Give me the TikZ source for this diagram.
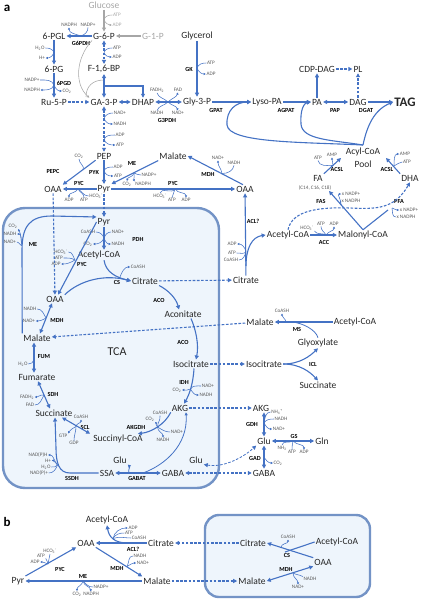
\documentclass[tikz,border=0pt]{standalone}
\usepackage{fontspec}
\setmainfont{Carlito}
\usetikzlibrary{arrows.meta}
\definecolor{ab}{HTML}{4472C4}
\definecolor{grt}{HTML}{A6A6A6}
\definecolor{txt}{HTML}{262626}
\definecolor{smt}{HTML}{595959}
\definecolor{bxl}{HTML}{7393C6}
\definecolor{bxf}{HTML}{EEF5FC}
\newcommand\hkIn[3]{\draw[cf] (#1) to[#3] (#2);}
\newcommand\hkOut[3]{\draw[cfa] (#1) to[#3] (#2);}
\tikzset{
  mn/.style={font=\fontsize{9.5}{11}\selectfont, text=txt, inner sep=1pt},
  sm/.style={font=\fontsize{5.2}{6}\selectfont, text=smt, inner sep=0.6pt},
  en/.style={font=\bfseries\fontsize{6.2}{7}\selectfont, text=black, inner sep=0.3pt},
  ln/.style={draw=ab, line width=1.1pt},
  ar/.style={ln, -{Triangle[length=4pt,width=4pt]}},
  ba/.style={ln, {Triangle[length=4pt,width=4pt]}-{Triangle[length=4pt,width=4pt]}},
  dsh/.style={dash pattern=on 2.6pt off 1.6pt},
  da/.style={ar, dsh},
  dba/.style={ba, dsh},
  thinar/.style={draw=ab, line width=0.8pt, -{Triangle[length=3pt,width=3pt]}},
  cf/.style={draw=ab, line width=0.55pt},
  cfa/.style={cf, -{Triangle[length=2.2pt,width=2.2pt]}},
  gln/.style={draw=grt, line width=1.1pt, -{Triangle[length=4pt,width=4pt]}},
  gcf/.style={draw=grt, line width=0.55pt},
  gcfa/.style={gcf, -{Triangle[length=2.2pt,width=2.2pt]}},
  mito/.style={draw=bxl, line width=2.4pt, fill=bxf},
}
\begin{document}
\begin{tikzpicture}[x=1pt,y=-1pt]
\useasboundingbox (0,0) rectangle (420,599);
% compartments
\draw[mito, rounded corners=22pt] (3,208) rectangle (219,488);
\draw[mito, rounded corners=14pt] (205,515) rectangle (370,597);

% ---------- main metabolites ----------
\node[font=\bfseries\fontsize{13}{13}\selectfont, inner sep=0] (la) at (7,8) {a};
\node[mn,text=grt] (Glc) at (104,5) {Glucose};
\node[mn] (G6P) at (104,36) {G-6-P};
\node[mn,text=grt] (G1P) at (153,36) {G-1-P};
\node[mn] (PGL) at (54,36) {6-PGL};
\node[mn] (Gly) at (197,36) {Glycerol};
\node[mn] (PG) at (54,69) {6-PG};
\node[mn] (FBP) at (104,69) {F-1,6-BP};
\node[mn] (R5P) at (54,102) {Ru-5-P};
\node[mn] (GAP) at (104,102) {GA-3-P};
\node[mn] (DHAP) at (143,102) {DHAP};
\node[mn] (G3P) at (197,102) {Gly-3-P};
\node[mn] (LPA) at (267,102) {Lyso-PA};
\node[mn] (PA) at (317,102) {PA};
\node[mn] (DAG) at (358,102) {DAG};
\node[mn,font=\bfseries\fontsize{13}{13}\selectfont] (TAG) at (405,102) {TAG};
\node[mn] (CDP) at (317,69) {CDP-DAG};
\node[mn] (PL) at (358,69) {PL};
\node[mn] (PEP) at (104,156) {PEP};
\node[mn] (Mal1) at (173,156) {Malate};
\node[mn] (OAA1) at (53,189) {OAA};
\node[mn] (Pyr1) at (104,189) {Pyr};
\node[mn] (OAA2) at (245,189) {OAA};
\node[mn] (Acyl) at (363,152) {Acyl-CoA};
\node[mn] (Pool) at (363,164) {Pool};
\node[mn] (FA) at (318,178) {FA};
\node[sm] (Cchain) at (315,188) {(C14, C16, C18)};
\node[mn] (DHA) at (410,178) {DHA};
\node[mn] (Ac2) at (288,235) {Acetyl-CoA};
\node[mn] (MalCoA) at (363,235) {Malonyl-CoA};
\node[mn] (Cit2) at (246,280) {Citrate};
% mitochondrion
\node[mn] (Pyr2) at (104,222) {Pyr};
\node[mn] (Ac1) at (99,255) {Acetyl-CoA};
\node[mn] (Cit1) at (145,281) {Citrate};
\node[mn] (OAA3) at (55,299) {OAA};
\node[mn] (Acon) at (183,314) {Aconitate};
\node[mn] (Mal2) at (37,338) {Malate};
\node[mn,font=\fontsize{12}{12}\selectfont] (TCA) at (117,352) {TCA};
\node[mn] (Iso1) at (191,364) {Isocitrate};
\node[mn] (Fum) at (37,377) {Fumarate};
\node[mn] (Suc1) at (54,413) {Succinate};
\node[mn] (AKG1) at (180,408) {AKG};
\node[mn] (SucCoA) at (118,439) {Succinyl-CoA};
\node[mn] (Glu1) at (120,460) {Glu};
\node[mn] (Glu2) at (196,460) {Glu};
\node[mn] (SSA) at (107,473) {SSA};
\node[mn] (GABA1) at (173,473) {GABA};
% cytosol right
\node[mn] (Mal3) at (260,322) {Malate};
\node[mn] (Ac3) at (355,322) {Acetyl-CoA};
\node[mn] (Glx) at (318,343) {Glyoxylate};
\node[mn] (Iso2) at (264,364) {Isocitrate};
\node[mn] (Suc2) at (318,385) {Succinate};
\node[mn] (AKG2) at (261,408) {AKG};
\node[mn] (Glu3) at (264,441) {Glu};
\node[mn] (Gln) at (322,441) {Gln};
\node[mn] (GABA2) at (264,473) {GABA};
% panel b
\node[font=\bfseries\fontsize{13}{13}\selectfont, inner sep=0] (lb) at (7,522) {b};
\node[mn] (Acb) at (107,520) {Acetyl-CoA};
\node[mn] (OAAb) at (86,543) {OAA};
\node[mn] (Citb) at (161,543) {Citrate};
\node[mn] (Pyrb) at (18,581) {Pyr};
\node[mn] (Malb) at (157,581) {Malate};
\node[mn] (Citb2) at (253,543) {Citrate};
\node[mn] (Acb2) at (337,542) {Acetyl-CoA};
\node[mn] (OAAb2) at (323,562) {OAA};
\node[mn] (Malb2) at (252,581) {Malate};

% ---------- enzymes ----------
\node[en] (eG6PDH) at (81,43) {G6PDH};
\node[en] (e6PGD) at (64,83) {6PGD};
\node[en] (eG3PDH) at (167,120) {G3PDH};
\node[en] (eGK) at (189,69) {GK};
\node[en] (eGPAT) at (216,110) {GPAT};
\node[en] (eAGPAT) at (286,110) {AGPAT};
\node[en] (ePAP) at (335,110) {PAP};
\node[en] (eDGAT) at (366,110) {DGAT};
\node[en] (ePEPC) at (53,171) {PEPC};
\node[en] (ePYK) at (94,172) {PYK};
\node[en] (eME1) at (132,163) {ME};
\node[en] (ePYC1) at (79,183) {PYC};
\node[en] (ePYC2) at (173,183) {PYC};
\node[en] (eMDH1) at (208,174) {MDH};
\node[en] (eACL) at (253,221) {ACL?};
\node[en] (eACSL1) at (337,169) {ACSL};
\node[en] (eACSL2) at (387,169) {ACSL};
\node[en] (eFAS) at (321,201) {FAS};
\node[en] (ePFA) at (399,201) {PFA};
\node[en] (eACC) at (324,242) {ACC};
\node[en] (ePDH) at (138,239) {PDH};
\node[en] (ePYC3) at (82,264) {PYC};
\node[en] (eME2) at (33,244) {ME};
\node[en] (eCS) at (117,282) {CS};
\node[en] (eACO1) at (159,300) {ACO};
\node[en] (eACO2) at (183,342) {ACO};
\node[en] (eMDH2) at (57,320) {MDH};
\node[en] (eFUM) at (44,357) {FUM};
\node[en] (eSDH) at (53,394) {SDH};
\node[en] (eIDH) at (184,382) {IDH};
\node[en] (eAKGDH) at (136,427) {AKGDH};
\node[en] (eSCL) at (85,427) {SCL};
\node[en] (eSSDH) at (72,478) {SSDH};
\node[en] (eGABAT) at (137,478) {GABAT};
\node[en] (eMS) at (297,329) {MS};
\node[en] (eICL) at (313,364) {ICL};
\node[en] (eGDH) at (252,424) {GDH};
\node[en] (eGS) at (294,436) {GS};
\node[en] (eGAD) at (255,458) {GAD};
\node[en] (bPYC) at (60,569) {PYC};
\node[en] (bMDH) at (117,568) {MDH};
\node[en] (bME) at (83,576) {ME};
\node[en] (bACL) at (133,549) {ACL?};
\node[en] (bCS) at (287,555) {CS};
\node[en] (bMDH2) at (286,569) {MDH};

% ---------- upper glycolysis / PPP ----------
\draw[gln] (Glc) -- (G6P);
\draw[gln] (G1P) -- (G6P);
\coordinate (hGlc) at (104,19.5);
\node[sm,text=grt] (gATP) at (117,15) {ATP};
\node[sm,text=grt] (gADP) at (117,25) {ADP};
\draw[gcf] (gATP.west) to[out=180,in=70] (hGlc);
\draw[gcfa] (hGlc) to[out=-70,in=180] (gADP.west);
\coordinate (gc1) at (86,97);
\coordinate (gc2) at (104,80);
\draw[gcfa] (G6P.south west) .. controls (76,58) and (74,84) .. (GAP.north west);
\draw[gcf] (gc1) .. controls (86,86) and (93,80) .. (gc2);

\draw[ar] (G6P) -- (PGL);
\coordinate (hG6PDH) at (81,36);
\node[sm] (nadphA) at (69,25) {NADPH};
\node[sm] (nadpA) at (88,25) {NADP+};
\hkIn{nadpA.south}{hG6PDH}{out=-90,in=20}
\hkOut{hG6PDH}{nadphA.south}{out=160,in=-90}

\draw[ar] (PGL) -- (PG);
\coordinate (hPGL) at (54,52.5);
\node[sm] (h2oA) at (40,48) {H\textsubscript{2}O};
\node[sm] (hpA) at (42,58) {H+};
\hkIn{h2oA.east}{hPGL}{out=0,in=110}
\hkOut{hPGL}{hpA.east}{out=-110,in=0}

\draw[ar] (PG) -- (R5P);
\coordinate (h6PGD) at (54,85);
\node[sm] (nadpB) at (32,80) {NADP+};
\node[sm] (nadphB) at (32,90) {NADPH};
\node[sm] (co2B) at (67,91) {CO\textsubscript{2}};
\hkIn{nadpB.east}{h6PGD}{out=0,in=110}
\hkOut{h6PGD}{nadphB.east}{out=-110,in=0}
\hkOut{h6PGD}{co2B.west}{out=-70,in=180}

\draw[da] (R5P) -- (GAP);

\draw[dba] (G6P) -- (FBP);
\coordinate (hPFK) at (104,52.5);
\node[sm] (atpC) at (117,48) {ATP};
\node[sm] (adpC) at (117,57) {ADP};
\hkIn{atpC.west}{hPFK}{out=180,in=70}
\hkOut{hPFK}{adpC.west}{out=-70,in=180}

\draw[ba] (FBP) -- (GAP);
\coordinate (fb) at (104,86);
\draw[ar] (fb) -| (DHAP.north);
\draw[ba] (GAP) -- (DHAP);

\draw[dba] (GAP) -- (PEP);
\coordinate (hGAPDH) at (104,118.5);
\coordinate (hPGK) at (104,139.5);
\node[sm] (nadD) at (120,113) {NAD+};
\node[sm] (nadhD) at (120,124) {NADH};
\node[sm] (adpD) at (120,135) {ADP};
\node[sm] (atpD) at (120,145) {ATP};
\hkIn{nadD.west}{hGAPDH}{out=180,in=70}
\hkOut{hGAPDH}{nadhD.west}{out=-70,in=180}
\hkIn{adpD.west}{hPGK}{out=180,in=70}
\hkOut{hPGK}{atpD.west}{out=-70,in=180}

% ---------- glycerol / lipids ----------
\draw[ba] (DHAP) -- (G3P);
\coordinate (hG3PDH) at (168,102);
\node[sm] (fadh2E) at (157,90) {FADH\textsubscript{2}};
\node[sm] (fadE) at (178,90) {FAD};
\node[sm] (nadhE) at (157,113) {NADH};
\node[sm] (nadE) at (178,113) {NAD+};
\hkIn{fadh2E.south}{hG3PDH}{out=-70,in=135}
\hkOut{hG3PDH}{fadE.south}{out=45,in=-110}
\hkIn{nadhE.north}{hG3PDH}{out=70,in=-135}
\hkOut{hG3PDH}{nadE.north}{out=-45,in=110}

\draw[ar] (Gly) -- (G3P);
\coordinate (hGK) at (197,68);
\node[sm] (atpF) at (211,63) {ATP};
\node[sm] (adpF) at (211,74) {ADP};
\hkIn{atpF.west}{hGK}{out=180,in=70}
\hkOut{hGK}{adpF.west}{out=-70,in=180}

\draw[ar] (G3P) -- (LPA);
\draw[ar] (LPA) -- (PA);
\draw[ba] (PA) -- (DAG);
\draw[ar] (DAG) -- (TAG);
\draw[ar] (PA) -- (CDP);
\draw[da] (CDP) -- (PL);
\draw[da] (DAG) -- (PL);

\coordinate (acB) at (363,145);
\draw[ar] (acB) .. controls (300,142) and (229,143) .. (227,125) .. controls (226,110) and (236,102) .. (LPA.west);
\draw[ar] (acB) .. controls (332,140) and (302,140) .. (301,124) .. controls (300,110) and (304,103) .. (PA.west);
\draw[ar] (acB) .. controls (367,126) and (374,110) .. (TAG.west);

% ---------- PEP / Pyr / OAA (cytosol) ----------
\draw[ar] (PEP) -- (Pyr1);
\coordinate (hPYK) at (104,171);
\node[sm] (adpG) at (118,167) {ADP};
\node[sm] (atpG) at (118,176) {ATP};
\hkIn{adpG.west}{hPYK}{out=180,in=70}
\hkOut{hPYK}{atpG.west}{out=-70,in=180}

\draw[ar] (PEP.south west) -- (OAA1.north east);
\coordinate (hPEPC) at (83,170);
\node[sm] (co2H) at (79,156) {CO\textsubscript{2}};
\hkIn{co2H.south}{hPEPC}{out=-90,in=60}

\draw[ar] (Pyr1) -- (OAA1);
\coordinate (hPYC1) at (78,189);
\node[sm] (adpI) at (69,200) {ADP};
\node[sm] (atpI) at (84,200) {ATP};
\node[sm] (hco3I) at (96,196) {HCO\textsubscript{3}\textsuperscript{-}};
\hkIn{atpI.north}{hPYC1}{out=90,in=-60}
\hkIn{hco3I.west}{hPYC1}{out=180,in=-30}
\hkOut{hPYC1}{adpI.north}{out=-120,in=90}

\draw[ar] (Mal1.south west) -- (Pyr1.north east);
\coordinate (hME1) at (134,173);
\node[sm] (nadpJ) at (149,175) {NADP+};
\node[sm] (co2J) at (127,184) {CO\textsubscript{2}};
\node[sm] (nadphJ) at (143,184) {NADPH};
\hkIn{nadpJ.west}{hME1}{out=180,in=-20}
\hkOut{hME1}{co2J.north}{out=-100,in=80}
\hkOut{hME1}{nadphJ.north west}{out=-70,in=110}

\draw[ar] (Pyr1) -- (OAA2);
\coordinate (hPYC2) at (175,189);
\node[sm] (hco3K) at (160,196) {HCO\textsubscript{3}\textsuperscript{-}};
\node[sm] (atpK) at (172,200) {ATP};
\node[sm] (adpK) at (186,200) {ADP};
\hkIn{hco3K.north}{hPYC2}{out=80,in=-120}
\hkIn{atpK.north}{hPYC2}{out=90,in=-90}
\hkOut{hPYC2}{adpK.north}{out=-60,in=90}

\draw[ar] ([xshift=-2pt]OAA2.north) -- (Mal1.east);
\coordinate (hMDH1) at (222,173.5);
\node[sm] (nadL) at (218,158) {NAD+};
\node[sm] (nadhL) at (234,163) {NADH};
\hkIn{nadhL.south}{hMDH1}{out=-100,in=0}
\hkOut{hMDH1}{nadL.south}{out=100,in=-90}

\draw[ar] (Cit2) -- (OAA2);
\coordinate (hACL) at (246,251);
\coordinate (aclS) at (246,266);
\draw[ar] (aclS) .. controls (246,248) and (252,237) .. (Ac2.west);
\node[sm] (adpM) at (232,244) {ADP};
\node[sm] (atpM) at (232,253) {ATP};
\node[sm] (coashM) at (231,260) {CoASH};
\hkIn{atpM.east}{hACL}{out=0,in=-100}
\hkIn{coashM.east}{hACL}{out=0,in=-100}
\hkOut{hACL}{adpM.east}{out=110,in=0}

% ---------- fatty acids ----------
\draw[ar] (Ac2) -- (MalCoA);
\coordinate (hACC) at (326,235);
\node[sm] (hco3N) at (307,228) {HCO\textsubscript{3}\textsuperscript{-}};
\node[sm] (atpN) at (321,224) {ATP};
\node[sm] (adpN) at (334,224) {ADP};
\hkIn{hco3N.south east}{hACC}{out=-60,in=150}
\hkIn{atpN.south}{hACC}{out=-90,in=120}
\hkOut{hACC}{adpN.south}{out=60,in=-90}

\coordinate (faE) at (329,191);
\coordinate (pfaM) at (388,210);
\draw[ar] (MalCoA.north) -- (faE);
\draw[ln] (MalCoA.north) -- (pfaM);
\draw[da] (Ac2.north) .. controls (292,210) and (320,207) .. (350,208) .. controls (375,209) and (394,210) .. (DHA.south);
\coordinate (hFAS) at (341,205);
\node[sm] (xnadpO) at (351,194) {x NADP+};
\node[sm] (xnadphO) at (351,201) {x NADPH};
\hkIn{xnadphO.west}{hFAS}{out=180,in=60}
\hkOut{hFAS}{xnadpO.west}{out=80,in=180}
\coordinate (hPFA) at (392,208);
\node[sm] (xnadpP) at (409,210) {x NADP+};
\node[sm] (xnadphP) at (406,217) {x NADPH};
\hkIn{xnadphP.west}{hPFA}{out=180,in=-80}
\hkOut{hPFA}{xnadpP.west}{out=-20,in=180}

\coordinate (acL) at (341,158);
\coordinate (acR) at (386,158);
\draw[ar] (FA.north east) -- (acL);
\coordinate (hACSL1) at (333,165.5);
\node[sm] (atpQ) at (318,158) {ATP};
\node[sm] (ampQ) at (332,155) {AMP};
\hkIn{atpQ.south}{hACSL1}{out=-80,in=180}
\hkOut{hACSL1}{ampQ.south}{out=90,in=-90}
\draw[ar] (DHA.north west) -- (acR);
\coordinate (hACSL2) at (394,166);
\node[sm] (ampR) at (405,154) {AMP};
\node[sm] (atpR) at (407,162) {ATP};
\hkIn{atpR.west}{hACSL2}{out=180,in=20}
\hkOut{hACSL2}{ampR.west}{out=90,in=180}

% ---------- mitochondrion ----------
\draw[da] (Pyr1) -- (Pyr2);
\draw[da] (OAA1) -- (OAA3);

\draw[ar] (Pyr2) -- (Pyr2 |- Ac1.north);
\coordinate (hPDH) at (104,238);
\node[sm] (coashS) at (88,232) {CoASH};
\node[sm] (co2S) at (88,244) {CO\textsubscript{2}};
\node[sm] (nadS) at (118,232) {NAD+};
\node[sm] (nadhS) at (118,244) {NADH};
\hkIn{coashS.east}{hPDH}{out=0,in=110}
\hkOut{hPDH}{co2S.east}{out=-110,in=0}
\hkIn{nadS.west}{hPDH}{out=180,in=70}
\hkOut{hPDH}{nadhS.west}{out=-70,in=180}

\draw[ar] (Pyr2.west) -- ([xshift=3pt]OAA3.north);
\coordinate (hPYC3) at (75,260);
\node[sm] (hco3T) at (61,252) {HCO\textsubscript{3}\textsuperscript{-}};
\node[sm] (atpT) at (59,258) {ATP};
\node[sm] (adpT) at (56,264) {ADP};
\hkIn{hco3T.east}{hPYC3}{out=0,in=120}
\hkIn{atpT.east}{hPYC3}{out=0,in=150}
\hkOut{hPYC3}{adpT.east}{out=-150,in=0}

\draw[ar] (Mal2.north west) -- (22,250) .. controls (22,226) and (30,216) .. (52,216) -- (Pyr2.north west);
\coordinate (hME2) at (22,245);
\node[sm] (co2U) at (13,226) {CO\textsubscript{2}};
\node[sm] (nadhU) at (10,234) {NADH};
\node[sm] (nadU) at (10,242) {NAD+};
\hkIn{nadU.east}{hME2}{out=0,in=-100}
\hkOut{hME2}{nadhU.east}{out=110,in=0}
\hkOut{hME2}{co2U.south east}{out=100,in=-60}

\draw[ar] ([xshift=5pt]Ac1.south) .. controls (106,272) and (115,277) .. (Cit1.west);
\draw[ar] (OAA3.north east) .. controls (80,280) and (105,274) .. (Cit1.west);
\coordinate (hCS) at (120,277);
\node[sm] (coashV) at (138,267) {CoASH};
\hkOut{hCS}{coashV.west}{out=70,in=180}

\draw[da] (Cit1) -- (Cit2);
\draw[ar] (Cit1.south east) .. controls (168,290) and (176,298) .. ([xshift=-4pt]Acon.north);
\draw[ar] ([xshift=8pt]Acon.south) .. controls (196,330) and (199,345) .. ([xshift=5pt]Iso1.north);
\draw[ar] ([xshift=3pt]Iso1.south) .. controls (193,385) and (189,395) .. ([xshift=4pt]AKG1.north);
\coordinate (hIDH) at (190.5,389);
\node[sm] (co2W) at (177,390) {CO\textsubscript{2}};
\node[sm] (nadW) at (208,386) {NAD+};
\node[sm] (nadhW) at (206,395) {NADH};
\hkIn{nadW.west}{hIDH}{out=180,in=60}
\hkOut{hIDH}{nadhW.west}{out=-60,in=180}
\hkOut{hIDH}{co2W.east}{out=-150,in=0}

\draw[ar] (AKG1.south west) .. controls (165,424) and (152,432) .. ([xshift=-6pt]SucCoA.north east);
\coordinate (hAKGDH) at (157.5,427);
\node[sm] (coashX) at (160,413) {CoASH};
\node[sm] (co2X) at (150,419) {CO\textsubscript{2}};
\node[sm] (nadX) at (177,432) {NAD+};
\node[sm] (nadhX) at (163,440) {NADH};
\hkIn{coashX.south}{hAKGDH}{out=-80,in=90}
\hkOut{hAKGDH}{co2X.south east}{out=150,in=-45}
\hkIn{nadX.west}{hAKGDH}{out=180,in=-30}
\hkOut{hAKGDH}{nadhX.north}{out=-90,in=90}

\draw[ba] ([xshift=8pt]Suc1.south) -- ([xshift=-2pt]SucCoA.north west);
\coordinate (hSCL) at (76,426.5);
\node[sm] (coashY) at (81,417) {CoASH};
\node[sm] (gtpY) at (63,436) {GTP};
\node[sm] (gdpY) at (74,443) {GDP};
\hkIn{gdpY.north}{hSCL}{out=90,in=-90}
\hkOut{hSCL}{gtpY.north east}{out=-150,in=60}
\hkOut{hSCL}{coashY.south}{out=80,in=-90}

\draw[ba] ([xshift=-4pt]Suc1.north) -- ([xshift=1pt]Fum.south);
\coordinate (hSDH) at (44,395);
\node[sm] (fadh2Z) at (27,397) {FADH\textsubscript{2}};
\node[sm] (fadZ) at (30,405) {FAD};
\hkIn{fadZ.east}{hSDH}{out=0,in=-120}
\hkOut{hSDH}{fadh2Z.east}{out=170,in=0}

\draw[ba] ([xshift=-3pt]Mal2.south) -- ([xshift=-3pt]Fum.north);
\coordinate (hFUM) at (34,360);
\node[sm] (h2oZ) at (23,364) {H\textsubscript{2}O};
\hkIn{h2oZ.east}{hFUM}{out=0,in=-110}

\draw[ba] ([xshift=3pt]Mal2.north) -- ([xshift=-3pt]OAA3.south);
\coordinate (hMDH2) at (46,318);
\node[sm] (nadhZ) at (30,309) {NADH};
\node[sm] (nadZ) at (29,321) {NAD+};
\hkIn{nadhZ.east}{hMDH2}{out=0,in=120}
\hkOut{hMDH2}{nadZ.east}{out=-150,in=0}

\draw[ar] (SSA.west) -- (70,473) .. controls (59,473) and (56,463) .. (56,448) -- ([xshift=1pt]Suc1.south);
\coordinate (hSSDH) at (57.5,465);
\node[sm] (nadphZ) at (38,455) {NAD(P)H};
\node[sm] (hpZ) at (48,460.5) {H+};
\node[sm] (h2oZ2) at (46,467) {H\textsubscript{2}O};
\node[sm] (nadpZ) at (39,473) {NAD(P)+};
\hkIn{h2oZ2.east}{hSSDH}{out=0,in=-120}
\hkIn{nadpZ.east}{hSSDH}{out=0,in=-110}
\hkOut{hSSDH}{nadphZ.east}{out=130,in=0}
\hkOut{hSSDH}{hpZ.east}{out=150,in=0}

\draw[ba] (SSA) -- (GABA1);
\coordinate (gGlu) at (129,473);
\draw[thinar] (gGlu) to[out=110,in=-45] (Glu1.south east);
\coordinate (arcS) at (143,473);
\draw[thinar] (arcS) .. controls (165,465) and (188,445) .. ([xshift=6pt]AKG1.south);

\draw[dba] (GABA1) -- (GABA2);
\draw[dba, line width=0.8pt] (Glu2.south east) .. controls (225,468) and (245,456) .. (Glu3.south west);
\draw[da] (Mal3) -- (Mal2);
\draw[da] (Iso1) -- (Iso2);
\draw[da] (AKG1) -- (AKG2);

% ---------- glyoxylate shunt / amino acids ----------
\draw[ar] (Ac3) -- (Mal3);
\coordinate (hMS) at (286,322);
\coordinate (hMS2) at (292,322);
\node[sm] (coashAA) at (282,311) {CoASH};
\hkOut{hMS}{coashAA.south}{out=100,in=-90}
\draw[ln, line width=0.8pt] (Glx.north) .. controls (316,330) and (303,323) .. (hMS2);

\draw[ar] (Iso2.east) .. controls (300,364) and (310,356) .. (Glx.south);
\draw[ar] (Iso2.east) .. controls (300,364) and (310,372) .. (Suc2.north);

\draw[ba] ([xshift=3pt]AKG2.south) -- (Glu3.north);
\coordinate (hGDH) at (264,423);
\node[sm] (nh4) at (277,412) {NH\textsubscript{4}\textsuperscript{+}};
\node[sm] (nadhAB) at (281,419) {NADH};
\node[sm] (nadAB) at (279,429) {NAD+};
\hkIn{nh4.west}{hGDH}{out=180,in=80}
\hkIn{nadhAB.west}{hGDH}{out=180,in=60}
\hkOut{hGDH}{nadAB.west}{out=-60,in=180}

\draw[ba] (Glu3) -- (Gln);
\coordinate (hGS) at (293,441);
\node[sm] (nh3) at (282,448) {NH\textsubscript{3}};
\node[sm] (atpAC) at (292,452) {ATP};
\node[sm] (adpAC) at (304,452) {ADP};
\hkIn{nh3.north}{hGS}{out=80,in=-150}
\hkIn{atpAC.north}{hGS}{out=90,in=-100}
\hkOut{hGS}{adpAC.north}{out=-50,in=90}

\draw[ba] (Glu3) -- (GABA2);
\coordinate (hGAD) at (264,457);
\node[sm] (co2AD) at (278,463) {CO\textsubscript{2}};
\hkOut{hGAD}{co2AD.west}{out=-60,in=180}

% ---------- panel b ----------
\draw[ar] (Pyrb.north east) -- (OAAb.south west);
\coordinate (hbPYC) at (48,564);
\node[sm] (bhco3) at (50,551) {HCO\textsubscript{3}\textsuperscript{-}};
\node[sm] (batp) at (41,556) {ATP};
\node[sm] (badp) at (35,562) {ADP};
\hkIn{bhco3.south}{hbPYC}{out=-90,in=90}
\hkIn{batp.south east}{hbPYC}{out=-40,in=120}
\hkOut{hbPYC}{badp.east}{out=160,in=0}

\draw[ar] (OAAb.south east) -- (Malb.north west);
\coordinate (hbMDH) at (127,566.5);
\node[sm] (bnadh) at (140,556) {NADH};
\node[sm] (bnad) at (143,563) {NAD+};
\hkIn{bnadh.west}{hbMDH}{out=180,in=60}
\hkOut{hbMDH}{bnad.west}{out=30,in=180}

\draw[ar] (Malb) -- (Pyrb);
\coordinate (hbME) at (83,581);
\node[sm] (bnadp) at (101,587) {NADP+};
\node[sm] (bco2) at (77,594) {CO\textsubscript{2}};
\node[sm] (bnadph) at (91,594) {NADPH};
\hkIn{bnadp.west}{hbME}{out=180,in=-45}
\hkOut{hbME}{bco2.north}{out=-100,in=90}
\hkOut{hbME}{bnadph.north}{out=-80,in=100}

\draw[ar] (Citb) -- (OAAb);
\coordinate (hbACLs) at (128,543);
\coordinate (hbACL) at (113,538.5);
\draw[ar] (hbACLs) .. controls (114,543) and (109,537) .. (Acb.south);
\node[sm] (badp2) at (133,528) {ADP};
\node[sm] (batp2) at (129,533) {ATP};
\node[sm] (bcoash) at (139,538) {CoASH};
\hkIn{batp2.west}{hbACL}{out=180,in=60}
\hkIn{bcoash.west}{hbACL}{out=180,in=20}
\hkOut{hbACL}{badp2.west}{out=80,in=180}

\draw[da] (Citb2) -- (Citb);
\draw[da] (Malb) -- (Malb2);

\draw[ar] (OAAb2.north west) -- (Citb2.east);
\coordinate (bcsx) at (285,552);
\draw[ln] (Acb2.west) -- (bcsx);
\coordinate (hbCS) at (281,547.5);
\node[sm] (bcoash2) at (288,537) {CoASH};
\hkOut{hbCS}{bcoash2.south}{out=90,in=-90}

\draw[ba] (Malb2.east) -- (OAAb2.south west);
\coordinate (hbMDH2) at (293,573);
\node[sm] (bnadh2) at (310,579) {NADH};
\node[sm] (bnad2) at (298,587) {NAD+};
\hkIn{bnadh2.north west}{hbMDH2}{out=150,in=-30}
\hkOut{hbMDH2}{bnad2.north}{out=-90,in=90}
\end{tikzpicture}
\end{document}
